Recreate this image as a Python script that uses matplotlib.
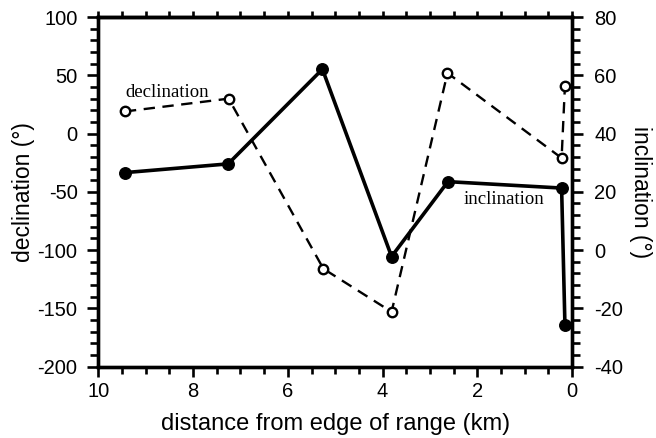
import matplotlib
matplotlib.use("Agg")
import matplotlib.pyplot as plt
from matplotlib.ticker import MultipleLocator

# Data
distance_decl = [9.44, 7.25, 5.25, 3.81, 2.63, 0.22, 0.15]
declination = [19, 30, -116, -153, 52, -21, 41]

distance_incl = [9.44, 7.26, 5.27, 3.81, 2.62, 0.22, 0.15]
inclination = [26.6, 29.6, 62.1, -2.2, 23.5, 21.3, -25.6]

plt.rcParams['font.family'] = ['Liberation Sans', 'DejaVu Sans']
plt.rcParams['axes.unicode_minus'] = False

fig = plt.figure(figsize=(6.56, 4.38), dpi=100)
ax = fig.add_axes([0.150, 0.163, 0.722, 0.798])
ax2 = ax.twinx()

ax.plot(distance_decl, declination, color='black', lw=1.7, dashes=(4.8, 3.2),
        marker='o', ms=6.8, mfc='white', mec='black', mew=1.7, zorder=3)
ax2.plot(distance_incl, inclination, color='black', lw=2.6,
         marker='o', ms=8.3, mfc='black', mec='black', zorder=3)

ax.set_xlim(10, 0)
ax.set_ylim(-200, 100)
ax2.set_ylim(-40, 80)

ax.xaxis.set_major_locator(MultipleLocator(2))
ax.xaxis.set_minor_locator(MultipleLocator(0.5))
ax.yaxis.set_major_locator(MultipleLocator(50))
ax.yaxis.set_minor_locator(MultipleLocator(10))
ax2.yaxis.set_major_locator(MultipleLocator(20))
ax2.yaxis.set_minor_locator(MultipleLocator(4))

for a in (ax, ax2):
    for s in a.spines.values():
        s.set_linewidth(2.4)

tw = 1.9
ax.tick_params(axis='x', which='major', direction='out', length=7, width=tw,
               labelsize=14.5, pad=4, bottom=True, top=False)
ax.tick_params(axis='x', which='minor', direction='out', length=5, width=tw,
               bottom=True, top=False)
ax.tick_params(axis='y', which='major', direction='out', length=8, width=tw,
               labelsize=14.5, pad=7, left=True, right=False)
ax.tick_params(axis='y', which='minor', direction='out', length=6, width=tw,
               left=True, right=False)
ax2.tick_params(axis='y', which='major', direction='out', length=8, width=tw,
                labelsize=14.5, pad=8, right=True, left=False)
ax2.tick_params(axis='y', which='minor', direction='out', length=6, width=tw,
                right=True, left=False)

top = ax.secondary_xaxis('top')
top.xaxis.set_major_locator(MultipleLocator(0.5))
top.tick_params(axis='x', which='major', direction='out', length=4, width=tw,
                labeltop=False)
top.spines['top'].set_linewidth(2.4)

ax.set_xlabel('distance from edge of range (km)', fontsize=17, labelpad=9)
ax.set_ylabel('declination (°)', fontsize=16.5, labelpad=2)
ax2.set_ylabel('inclination (°)', fontsize=16.5, rotation=270, labelpad=21)

ax.text(9.43, 35.5, 'declination', family='Liberation Serif', fontsize=13.5,
        ha='left', va='center')
ax2.text(2.30, 17.5, 'inclination', family='Liberation Serif', fontsize=13.5,
         ha='left', va='center')

fig.savefig('out.png', dpi=100)
